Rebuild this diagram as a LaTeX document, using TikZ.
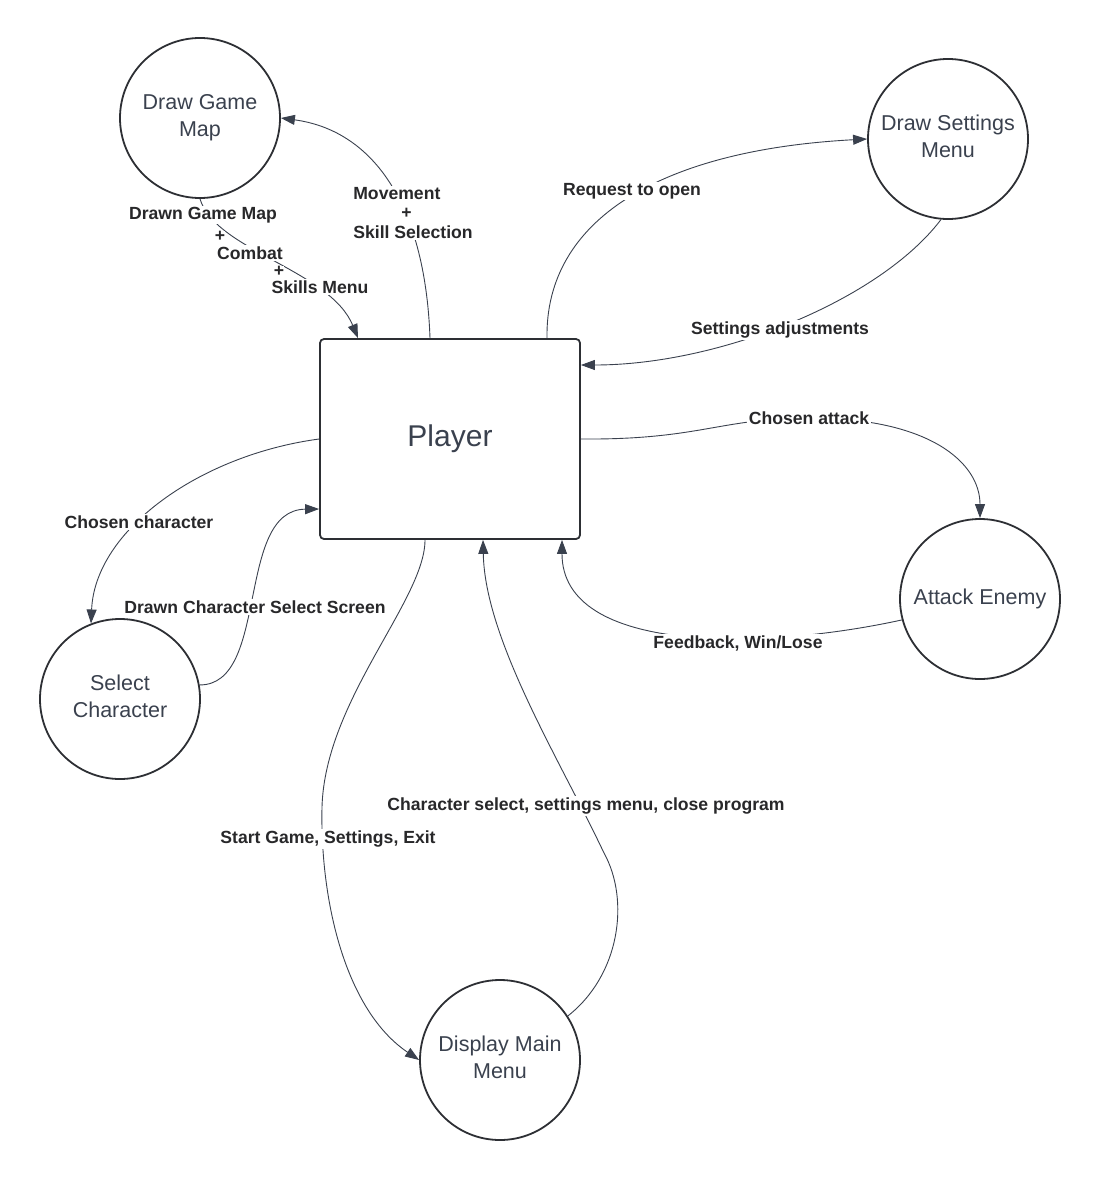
\documentclass[tikz,border=0pt]{standalone}
\usepackage{fontspec}
\setmainfont{Liberation Sans}
\usepackage{tikz}
\usetikzlibrary{arrows.meta}

\definecolor{edgegray}{RGB}{45,47,52}
\definecolor{inkgray}{RGB}{58,65,78}
\definecolor{lblgray}{RGB}{40,40,42}

% two lines of process text, set a little above the centre
\newcommand{\proctext}[3][4pt]{\raisebox{#1}{\begin{tabular}{@{}c@{}}#2\\#3\end{tabular}}}

\begin{document}
\begin{tikzpicture}[x=1pt, y=-1pt,
  proc/.style={circle, draw=edgegray, line width=1.8pt, minimum size=160pt, inner sep=0pt,
    align=center, text=inkgray, font=\fontsize{21.5}{27}\selectfont},
  entity/.style={rectangle, rounded corners=4pt, draw=edgegray, line width=1.8pt,
    minimum width=260pt, minimum height=200pt, text=inkgray, font=\fontsize{30}{36}\selectfont},
  flow/.style={draw=inkgray, line width=0.9pt, -{Triangle[length=14pt,width=10pt]}},
  lbl/.style={fill=white, inner sep=1.5pt, text=lblgray, font=\fontsize{17.6}{19.5}\selectfont\bfseries}]

\useasboundingbox (0,0) rectangle (1100,1180);

% Entity and processes
\node[entity] (player) at (450,439) {Player};
\node[proc] (gmap) at (200,118) {Draw Game\\Map};
\node[proc] (smenu) at (948,139) {\proctext{Draw Settings}{Menu}};
\node[proc] (sel) at (120,699) {\proctext[5pt]{Select}{Character}};
\node[proc] (attack) at (980,599) {Attack Enemy};
\node[proc] (dmenu) at (500,1060) {\proctext[6pt]{Display Main}{Menu}};

% Game map flows
\draw[flow] ([xshift=-20pt]player.north) .. controls (425,200) and (370,130) .. (gmap.east);
\draw[flow] (gmap.south) .. controls (215,250) and (330,270) .. ([xshift=-92pt]player.north);
\node[lbl, align=left] (mvlbl) at (413,213) {Movement\\\hspace*{48pt}+\\Skill Selection};
\node[lbl] (dgm) at (203,215) {Drawn Game Map};
\node[lbl, inner sep=0pt] (plus1) at (220,236) {+};
\node[lbl] (cmb) at (250,253) {Combat};
\node[lbl, inner sep=0pt] (plus2) at (279,271) {+};
\node[lbl] (skm) at (320,287) {Skills Menu};

% Settings flows
\draw[flow] ([xshift=97pt]player.north) .. controls (545,220) and (660,150) .. (smenu.west);
\draw[flow] (smenu.-95) .. controls (880,300) and (720,365) .. ([yshift=74pt]player.east);
\node[lbl] (rq) at (632,191) {Request to open};
\node[lbl] (sadj) at (780,330) {Settings adjustments};

% Attack flows
\draw[flow] (player.east) .. controls (700,440) and (720,418) .. (810,418)
  .. controls (930,418) and (980,463) .. (attack.north);
\draw[flow] (attack.195) .. controls (765,650) and (562,655) .. ([xshift=112pt]player.south);
\node[lbl] (catk) at (809,418) {Chosen attack};
\node[lbl] (fb) at (738,643) {Feedback, Win/Lose};

% Character select flows
\draw[flow] (player.west) .. controls (200,455) and (95,530) .. (sel.111);
\draw[flow] (sel.10) .. controls (270,685) and (235,510) .. ([yshift=-70pt]player.west);
\node[lbl] (cch) at (139,522) {Chosen character};
\node[lbl] (dcs) at (255,607) {Drawn Character Select Screen};

% Main menu flows
\draw[flow] ([xshift=-25pt]player.south) .. controls (425,600) and (325,700) .. (322,807)
  .. controls (320,900) and (345,1010) .. (dmenu.west);
\draw[flow] (dmenu.33) .. controls (620,975) and (630,900) .. (604,853)
  .. controls (560,760) and (485,640) .. ([xshift=33pt]player.south);
\node[lbl] (sgs) at (328,839) {Start Game, Settings, Exit};
\node[lbl] (csel) at (586,806) {Character select, settings menu, close program};

\end{tikzpicture}
\end{document}
